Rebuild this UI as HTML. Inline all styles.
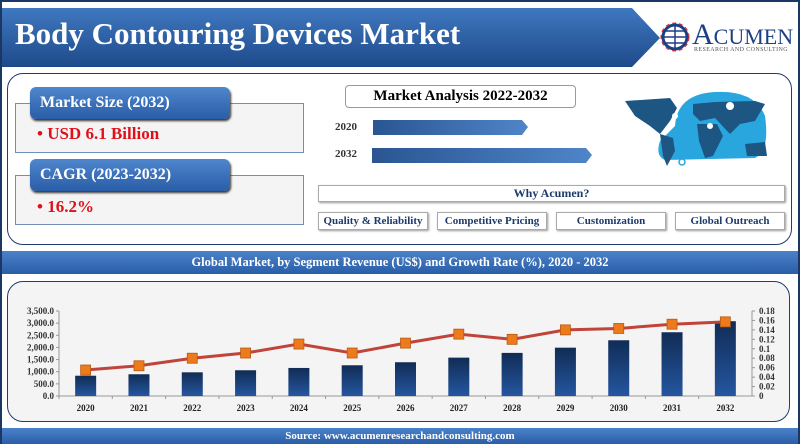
<!DOCTYPE html>
<html><head><meta charset="utf-8"><style>
*{margin:0;padding:0;box-sizing:border-box}
body{width:800px;height:444px;overflow:hidden;background:#fff;font-family:"Liberation Serif",serif;position:relative}
.abs{position:absolute}
.pill{position:absolute;background:linear-gradient(#4f86cc,#2a5ea8);border-radius:6px;color:#fff;font-weight:bold;font-size:16px;padding-left:10px;line-height:32px;box-shadow:1px 2px 2px #333}
.box{position:absolute;background:#f4f4f4;border:1px solid #6f8fb8}
.val{position:absolute;color:#e0101a;font-weight:bold;font-size:17px}
.btn{position:absolute;top:212px;height:18px;width:110px;border:1px solid #aaa;background:#fff;box-shadow:1px 1px 2px #999;color:#1d3a6c;font-weight:bold;font-size:11px;text-align:center;line-height:16px}
</style></head><body>
<div class="abs" style="left:0;top:0;width:800px;height:444px;border:2px solid #1b3766"></div>
<svg class="abs" style="left:0;top:0" width="800" height="70">
<defs><linearGradient id="hg" x1="0" y1="0" x2="0" y2="1"><stop offset="0" stop-color="#3f78c0"/><stop offset="1" stop-color="#1e4a8a"/></linearGradient></defs>
<polygon points="2,8 632,8 660,38 632,67 2,67" fill="url(#hg)"/>
</svg>
<div class="abs" style="left:15px;top:16px;color:#fff;font-weight:bold;font-size:31px">Body Contouring Devices Market</div>
<svg class="abs" style="left:660px;top:22px" width="30" height="30"><circle cx="15" cy="15" r="12" fill="none" stroke="#1d3f85" stroke-width="3"/><path d="M3 15h24M15 3v24M6 9h18M6 21h18" stroke="#1d3f85" stroke-width="1.5"/><circle cx="15" cy="15" r="14" fill="none" stroke="#d22" stroke-width="1" stroke-dasharray="4 3"/></svg>
<div class="abs" style="left:692px;top:20px;color:#1d3f85;font-size:30px;line-height:30px;letter-spacing:0px">A<span style="font-size:22px">CUMEN</span></div>
<div class="abs" style="left:694px;top:47px;color:#555;font-size:6px;letter-spacing:0.4px">RESEARCH AND CONSULTING</div>

<div class="abs" style="left:7px;top:73px;width:785px;height:172px;border:1.5px solid #1f3d6e;border-radius:16px;background:#fff"></div>
<div class="box" style="left:15px;top:103px;width:289px;height:50px"></div>
<div class="pill" style="left:30px;top:87px;width:200px">Market Size (2032)</div>
<div class="val" style="left:37px;top:124px">• USD 6.1 Billion</div>
<div class="box" style="left:15px;top:175px;width:289px;height:50px"></div>
<div class="pill" style="left:30px;top:159px;width:200px">CAGR (2023-2032)</div>
<div class="val" style="left:37px;top:197px">• 16.2%</div>

<div class="abs" style="left:345px;top:85px;width:231px;height:23px;border:1px solid #999;border-radius:4px;text-align:center;font-weight:bold;font-size:15px;line-height:21px">Market Analysis 2022-2032</div>
<div class="abs" style="left:335px;top:121px;font-weight:bold;font-size:11px;color:#333">2020</div>
<div class="abs" style="left:335px;top:148px;font-weight:bold;font-size:11px;color:#333">2032</div>
<svg class="abs" style="left:370px;top:118px" width="230" height="48">
<defs><linearGradient id="ag" x1="0" y1="0" x2="1" y2="0"><stop offset="0" stop-color="#2a5592"/><stop offset="1" stop-color="#4f85c9"/></linearGradient></defs>
<polygon points="3,2 152,2 158,9 152,17 3,17" fill="url(#ag)"/>
<polygon points="2,30 216,30 222,37 216,45 2,45" fill="url(#ag)"/>
</svg>
<svg class="abs" style="left:615px;top:86px" width="155" height="82">
<path d="M60 40 Q62 8 100 6 Q140 4 150 30 Q155 65 140 72 L50 74 Q40 70 45 55Z" fill="#2aa6df"/>
<path d="M10 15 L55 12 L62 22 L55 35 L45 48 L35 40 L20 30Z" fill="#1d5683"/>
<path d="M45 48 L58 52 L60 65 L52 80 L48 70Z" fill="#1d5683"/>
<path d="M78 18 L100 16 L140 15 L150 18 L140 35 L125 38 L115 48 L100 32 L85 35 L78 28Z" fill="#1d5683"/>
<path d="M82 38 L102 38 L108 50 L98 70 L90 72 L84 55Z" fill="#1d5683"/>
<path d="M130 58 L150 56 L152 70 L132 70Z" fill="#1d5683"/>
<circle cx="67" cy="76" r="3" fill="none" stroke="#2aa6df" stroke-width="1.5"/>
<circle cx="115" cy="20" r="4" fill="#fff"/><circle cx="95" cy="40" r="3" fill="#fff"/><circle cx="60" cy="30" r="3" fill="#fff"/>
</svg>
<div class="abs" style="left:318px;top:185px;width:467px;height:17px;border:1px solid #aaa;background:#fff;box-shadow:1px 1px 2px #999;text-align:center;color:#1d3a6c;font-weight:bold;font-size:12px;line-height:15px">Why Acumen?</div>
<div class="btn" style="left:318px">Quality &amp; Reliability</div>
<div class="btn" style="left:437px">Competitive Pricing</div>
<div class="btn" style="left:556px">Customization</div>
<div class="btn" style="left:675px">Global Outreach</div>

<div class="abs" style="left:2px;top:251px;width:796px;height:23px;background:linear-gradient(#4a82c8,#2a5ea8);color:#fff;font-weight:bold;font-size:12.5px;text-align:center;line-height:23px">Global Market, by Segment Revenue (US$) and Growth Rate (%), 2020 - 2032</div>
<div class="abs" style="left:7px;top:281px;width:783px;height:141px;border:1.5px solid #1f3d6e;border-radius:16px;background:#f4f4f4"></div>
<svg id="chart" class="abs" style="left:0;top:280px" width="800" height="145"></svg>
<div class="abs" style="left:2px;top:428px;width:796px;height:16px;background:linear-gradient(#4a82c8,#2a5ea8);color:#fff;font-weight:bold;font-size:11px;text-align:center;line-height:16px">Source: www.acumenresearchandconsulting.com</div>

<script>
const years=["2020","2021","2022","2023","2024","2025","2026","2027","2028","2029","2030","2031","2032"];
const revenue=[835,895,975,1060,1155,1265,1390,1580,1775,1990,2295,2625,3080];
const growth=[0.055,0.064,0.08,0.091,0.11,0.091,0.112,0.131,0.12,0.14,0.143,0.152,0.157];
const leftTicks=["0.0","500.0","1,000.0","1,500.0","2,000.0","2,500.0","3,000.0","3,500.0"];
const rightTicks=["0","0.02","0.04","0.06","0.08","0.1","0.12","0.14","0.16","0.18"];
const NS="http://www.w3.org/2000/svg";
const svg=document.getElementById('chart');
const x0=59,x1=752,yb=116,yt=31;
const band=(x1-x0)/years.length;
const xc=i=>x0+band*(i+0.5);
const yL=v=>yb-(v/3500)*(yb-yt);
const yR=v=>yb-(v/0.18)*(yb-yt);
function mk(t,a){const e=document.createElementNS(NS,t);for(const k in a)e.setAttribute(k,a[k]);svg.appendChild(e);return e;}
const defs=mk('defs',{});
defs.innerHTML='<linearGradient id="bg" x1="0" y1="0" x2="0" y2="1"><stop offset="0" stop-color="#112c55"/><stop offset="1" stop-color="#2456a0"/></linearGradient>';
let ax=mk('line',{x1:x0,y1:yt,x2:x0,y2:yb,stroke:'#999'});


ax=mk('line',{x1:x1,y1:yt,x2:x1,y2:yb,stroke:'#999'});


ax=mk('line',{x1:x0,y1:yb,x2:x1,y2:yb,stroke:'#999'});


leftTicks.forEach((t,i)=>{const y=yL(i*500);
 mk('line',{x1:x0-3,y1:y,x2:x0,y2:y,stroke:'#999'});
 const e=mk('text',{x:x0-5,y:y+3,'text-anchor':'end','font-size':'9','font-weight':'bold','fill':'#333','font-family':'Liberation Serif'});
 e.textContent=t;
 
 });
rightTicks.forEach((t,i)=>{const y=yR(i*0.02);
 mk('line',{x1:x1,y1:y,x2:x1+3,y2:y,stroke:'#999'});
 const e=mk('text',{x:x1+7,y:y+3,'font-size':'9','font-weight':'bold','fill':'#333','font-family':'Liberation Serif'});
 e.textContent=t;
 
 });
years.forEach((yr,i)=>{
 mk('line',{x1:x0+band*i,y1:yb,x2:x0+band*i,y2:yb+3,stroke:'#999'});
 const b=mk('rect',{x:xc(i)-10.5,y:yL(revenue[i]),width:21,height:yb-yL(revenue[i]),fill:'url(#bg)'});
 
 
 const t=mk('text',{x:xc(i),y:yb+15,'text-anchor':'middle','font-size':'9','font-weight':'bold','fill':'#222','font-family':'Liberation Serif'});
 t.textContent=yr;
 
 });
const pl=mk('polyline',{points:growth.map((g,i)=>xc(i)+','+yR(g)).join(' '),fill:'none',stroke:'#c0443a','stroke-width':3});


growth.forEach((g,i)=>{const m=mk('rect',{x:xc(i)-5,y:yR(g)-5,width:10,height:10,fill:'#ee7a1e',stroke:'#b65a10','stroke-width':0.8});
 
 });
</script>
</body></html>
